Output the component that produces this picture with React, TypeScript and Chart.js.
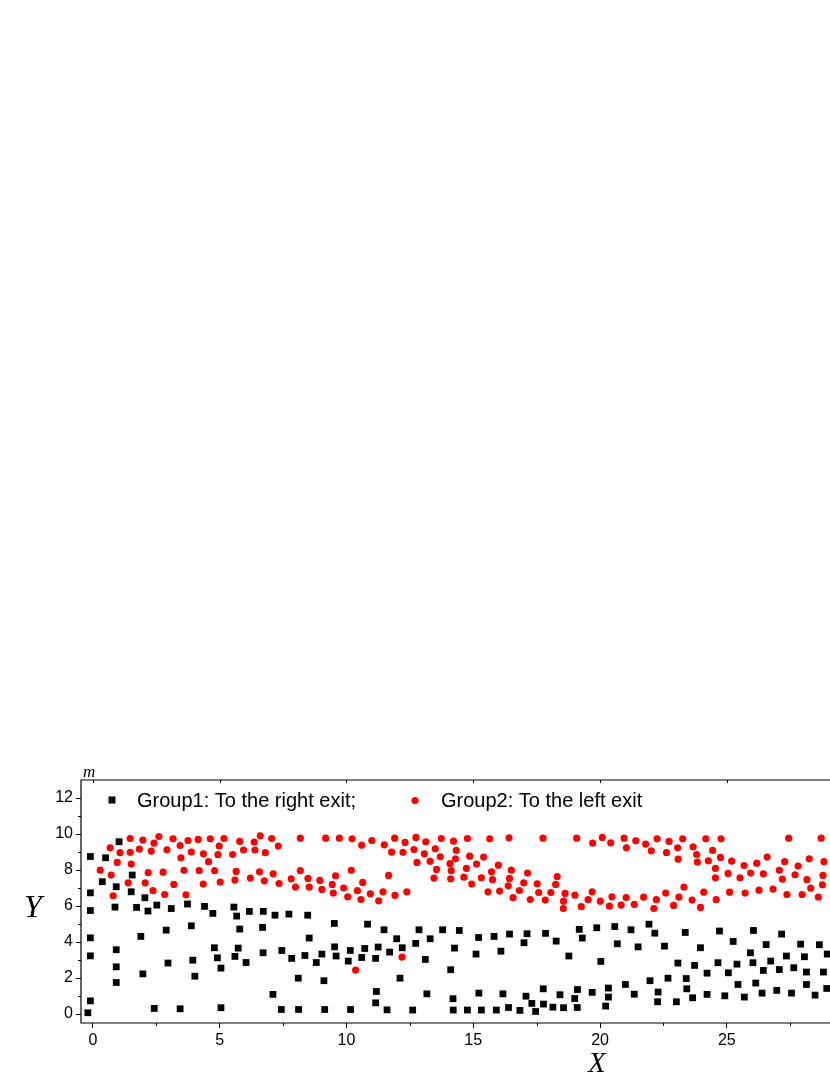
import { useEffect, useRef } from 'react';
import { Chart, registerables } from 'chart.js';

Chart.register(...registerables);

const xTickValues = [0, 5, 10, 15, 20, 25];
const yTickValues = [0, 2, 4, 6, 8, 10, 12];
const xMinorValues = [2.5, 7.5, 12.5, 17.5, 22.5, 27.5];
const yMinorValues = [1, 3, 5, 7, 9, 11];

const seriesLabels = ['Group1: To the right exit;', 'Group2: To the left exit'];
const axisTitleX = 'X';
const axisTitleY = 'Y';
const unitLabel = 'm';

const group1X = [
  -0.10, 0.50, 1.03, 0.37, 0.92, 1.55, -0.10, 1.51, 2.05, -0.10, 0.87, 1.72, 2.17, 2.52, 3.09, 3.73, 4.40,
  -0.10, 1.89, 2.89, 3.88, -0.10, 0.92, 0.92, 2.96, 3.94, 0.92, 1.97, 4.02, -0.10, -0.20, 2.42, 3.44,
  4.73, 5.56, 5.67, 6.17, 6.72, 7.18, 7.73, 8.47, 5.79, 6.69, 8.53, 4.79, 5.73, 4.91, 5.60, 6.71, 7.45,
  6.04, 5.05, 7.84, 8.36, 9.03, 8.81, 8.10, 9.11, 7.10, 5.05, 7.43, 8.11, 9.14,
  9.52, 10.83, 11.48, 12.86, 13.79, 11.98, 13.30, 12.73, 9.53, 10.15, 10.72, 11.25, 12.20, 14.26, 9.59,
  10.07, 10.60, 11.15, 11.70, 13.11, 14.11, 12.11, 11.18, 11.15, 13.17, 14.20, 10.16, 11.60, 12.61, 14.21,
  14.45, 15.21, 15.82, 16.43, 17.12, 17.85, 17.00, 18.27, 19.18, 19.30, 15.11, 16.09, 18.77, 15.22, 16.17,
  17.08, 17.76, 18.42, 19.11, 19.00, 17.31, 17.77, 14.77, 15.32, 15.91, 16.39, 16.84, 17.46, 18.14, 18.56, 19.10,
  19.87, 20.58, 21.22, 21.93, 22.16, 23.36, 20.68, 21.50, 22.54, 23.96, 20.03, 23.07, 23.73, 24.22, 21.00,
  21.97, 22.68, 23.40, 19.69, 20.33, 20.33, 21.35, 22.29, 23.42, 24.22, 22.27, 23.01, 23.65, 20.22,
  24.71, 26.05, 27.16, 25.25, 26.55, 27.91, 28.65, 25.93, 27.35, 28.06, 28.96, 24.65, 25.40, 26.03, 26.73,
  25.06, 26.44, 27.07, 27.64, 28.14, 28.81, 25.44, 26.14, 28.14, 28.94, 24.92, 25.69, 26.39, 26.97, 27.55, 28.48,
];
const group1Y = [
  8.75, 8.68, 9.57, 7.35, 7.07, 7.72, 6.73, 6.79, 6.46, 5.75, 5.94, 5.92, 5.72, 6.05, 5.86, 6.11, 5.98,
  4.23, 4.31, 4.66, 4.90, 3.23, 3.57, 2.62, 2.83, 2.99, 1.75, 2.23, 2.10, 0.73, 0.07, 0.31, 0.29,
  5.59, 5.94, 5.44, 5.70, 5.70, 5.49, 5.55, 5.49, 4.72, 4.81, 4.22, 3.68, 3.66, 3.12, 3.20, 3.40, 3.53,
  2.86, 2.55, 3.09, 3.25, 3.33, 2.86, 1.99, 1.85, 1.09, 0.35, 0.25, 0.25, 0.25,
  5.03, 4.99, 4.68, 4.68, 4.68, 4.18, 4.18, 3.92, 3.73, 3.53, 3.64, 3.72, 3.68, 3.66, 3.22,
  2.94, 3.14, 3.09, 3.44, 3.03, 2.46, 1.99, 1.25, 0.62, 1.12, 0.85, 0.25, 0.23, 0.22, 0.22,
  4.64, 4.25, 4.31, 4.44, 4.46, 4.48, 3.96, 4.05, 4.70, 4.22, 3.33, 3.49, 3.22, 1.16, 1.12,
  0.99, 1.40, 1.07, 1.36, 0.86, 0.59, 0.55, 0.22, 0.22, 0.22, 0.36, 0.20, 0.14, 0.38, 0.35, 0.36,
  4.79, 4.86, 4.68, 4.99, 4.49, 4.53, 3.90, 3.73, 3.77, 3.68, 2.92, 2.83, 2.70, 2.27, 1.64,
  1.85, 1.99, 1.97, 1.20, 1.44, 0.94, 1.10, 1.22, 1.40, 1.09, 0.68, 0.68, 0.90, 0.44,
  4.61, 4.64, 4.44, 4.03, 3.86, 3.88, 3.85, 3.40, 3.22, 3.18, 3.33, 2.85, 2.77, 2.85, 2.94,
  2.29, 2.42, 2.47, 2.57, 2.33, 2.33, 1.64, 1.72, 1.64, 1.42, 1.01, 0.94, 1.16, 1.31, 1.16, 1.05,
];

const group2X = [
  1.47, 1.97, 2.60, 3.16, 3.75, 4.15, 2.41, 0.68, 1.07, 1.47, 1.83, 2.30, 2.92, 3.44, 3.88, 4.36, 3.47,
  0.96, 1.51, 0.29, 0.72, 2.18, 2.77, 3.59, 4.19, 1.39, 2.06, 3.19, 4.35, 0.80, 2.37, 2.83, 3.67,
  4.63, 5.17, 6.60, 7.05, 8.18, 9.18, 4.98, 5.79, 6.36, 7.31, 4.93, 5.51, 5.94, 6.39, 6.80, 4.56,
  4.80, 5.65, 6.57, 7.11, 8.18, 5.02, 5.60, 6.21, 6.76, 7.34, 7.82, 8.48, 8.95, 7.99, 8.53, 9.03,
  9.72, 10.22, 10.60, 11.00, 11.49, 11.90, 12.31, 12.74, 13.13, 13.74, 14.22, 11.78, 12.23, 12.66, 13.07,
  13.50, 14.33, 13.70, 14.30, 12.78, 13.30, 14.08, 13.55, 14.13, 13.45, 14.11, 9.57, 10.19, 11.66, 9.44,
  10.64, 9.48, 9.89, 10.43, 10.05, 10.57, 10.94, 11.44, 11.27, 11.91, 12.38, 12.19, 10.36,
  14.77, 15.65, 16.41, 17.75, 19.08, 14.86, 15.41, 15.13, 15.99, 14.73, 15.72, 16.50, 17.14, 18.31,
  14.63, 15.32, 15.76, 16.43, 16.99, 17.52, 18.25, 14.94, 15.58, 16.04, 16.38, 16.82, 17.58, 18.06,
  18.62, 19.01, 16.57, 17.25, 17.84, 18.56, 18.55, 19.26,
  19.71, 20.09, 20.42, 20.95, 21.04, 21.41, 21.80, 22.02, 22.25, 22.72, 22.62, 23.06, 23.26, 23.67,
  23.81, 23.08, 23.84, 24.17, 19.69, 19.53, 20.01, 20.47, 20.37, 20.83, 21.03, 21.35, 21.72, 22.22,
  22.12, 22.59, 22.90, 23.11, 23.31, 23.63, 23.96, 24.09,
  24.77, 27.44, 28.72, 24.44, 24.27, 24.75, 25.19, 25.68, 26.18, 26.59, 27.28, 27.81, 28.25, 28.83,
  24.55, 24.55, 25.05, 25.52, 25.94, 26.44, 27.07, 27.19, 27.69, 28.16, 28.79, 28.77, 24.58, 25.11,
  25.72, 26.27, 26.82, 27.37, 27.97, 28.31, 28.61,
];
const group2Y = [
  9.75, 9.66, 9.86, 9.73, 9.64, 9.70, 9.49, 9.23, 8.96, 8.98, 9.16, 9.05, 9.12, 9.36, 9.00, 8.90, 8.68,
  8.42, 8.33, 7.99, 7.72, 7.85, 7.88, 7.98, 7.96, 7.29, 7.29, 7.20, 7.22, 6.57, 6.85, 6.64, 6.62,
  9.73, 9.75, 9.90, 9.75, 9.77, 9.77, 9.33, 9.59, 9.55, 9.33, 8.85, 8.86, 9.11, 9.11, 8.96, 8.46,
  7.96, 7.92, 7.90, 7.79, 7.96, 7.33, 7.44, 7.55, 7.40, 7.25, 7.51, 7.53, 7.42, 7.05, 7.05, 6.92,
  9.77, 9.73, 9.38, 9.64, 9.40, 9.77, 9.53, 9.81, 9.57, 9.75, 9.60, 8.99, 8.98, 9.14, 8.90,
  9.18, 9.09, 8.73, 8.62, 8.42, 8.48, 8.35, 8.03, 7.96, 7.55, 7.51, 7.68, 7.98, 7.70, 7.20,
  7.31, 6.72, 7.00, 6.85, 6.51, 6.36, 6.68, 6.79, 6.29, 6.59, 6.79, 3.16, 2.44,
  9.75, 9.73, 9.79, 9.77, 9.77, 8.77, 8.72, 8.33, 8.27, 8.09, 7.90, 7.99, 7.83, 7.64,
  7.60, 7.57, 7.46, 7.53, 7.29, 7.23, 7.20, 7.22, 6.79, 6.83, 7.12, 6.86, 6.75, 6.75,
  6.70, 6.60, 6.46, 6.36, 6.33, 6.27, 5.86, 5.96,
  9.49, 9.81, 9.51, 9.77, 9.23, 9.62, 9.44, 9.07, 9.73, 9.59, 8.96, 9.23, 9.73, 9.29,
  8.86, 8.60, 8.44, 9.73, 6.79, 6.35, 6.27, 6.51, 5.99, 6.05, 6.47, 6.09, 6.49, 6.35,
  5.86, 6.72, 6.03, 6.49, 7.05, 6.33, 5.92, 6.77,
  9.73, 9.77, 9.77, 9.09, 8.51, 8.70, 8.49, 8.25, 8.38, 8.72, 8.46, 8.22, 8.62, 8.46,
  8.09, 7.57, 7.81, 7.57, 7.83, 7.79, 7.98, 7.49, 7.73, 7.46, 7.70, 7.18, 6.35, 6.77,
  6.72, 6.88, 6.94, 6.64, 6.64, 6.99, 6.49,
];

const SANS = '"Liberation Sans", Arial, sans-serif';
const SERIF = '"Liberation Serif", "Times New Roman", serif';

const framePlugin = {
  id: 'frame',
  afterDraw(chart: any) {
    const { ctx, chartArea } = chart;
    const { left, right, top, bottom } = chartArea;
    const xs = chart.scales.x;
    const ys = chart.scales.y;
    ctx.save();
    ctx.strokeStyle = '#000';
    ctx.lineWidth = 1.2;
    ctx.beginPath();
    ctx.moveTo(left, top);
    ctx.lineTo(right, top);
    ctx.lineTo(right, bottom);
    ctx.lineTo(left, bottom);
    ctx.closePath();
    ctx.stroke();

    ctx.lineWidth = 1;
    ctx.beginPath();
    yMinorValues.forEach((v) => {
      const py = Math.round(ys.getPixelForValue(v)) + 0.5;
      ctx.moveTo(left, py);
      ctx.lineTo(left - 3, py);
    });
    xMinorValues.forEach((v) => {
      const px = Math.round(xs.getPixelForValue(v)) + 0.5;
      ctx.moveTo(px, bottom);
      ctx.lineTo(px, bottom + 3);
    });
    xTickValues.forEach((v) => {
      const px = Math.round(xs.getPixelForValue(v)) + 0.5;
      ctx.moveTo(px, top);
      ctx.lineTo(px, top + 3);
    });
    ctx.stroke();

    // legend
    const ds0 = chart.data.datasets[0];
    const ds1 = chart.data.datasets[1];
    ctx.fillStyle = ds0.backgroundColor;
    ctx.fillRect(112 - 3.5, 800 - 3.5, 7, 7);
    ctx.fillStyle = ds1.backgroundColor;
    ctx.beginPath();
    ctx.arc(415, 800.5, 3.6, 0, Math.PI * 2);
    ctx.fill();
    ctx.fillStyle = '#000';
    ctx.font = `20px ${SANS}`;
    ctx.textBaseline = 'alphabetic';
    ctx.textAlign = 'left';
    ctx.fillText(ds0.label, 137, 807);
    ctx.fillText(ds1.label, 441, 807);

    // axis titles
    ctx.font = `italic 17px ${SERIF}`;
    ctx.fillText(unitLabel, 83, 777);
    ctx.font = `italic 32px ${SERIF}`;
    ctx.fillText(axisTitleY, 24, 917);
    ctx.font = `italic 29px ${SERIF}`;
    ctx.fillText(axisTitleX, 588, 1072);
    ctx.restore();
  },
};

export default function App() {
  const canvasRef = useRef<HTMLCanvasElement | null>(null);

  useEffect(() => {
    const canvas = canvasRef.current;
    if (!canvas) return;
    const tickFont = { family: SANS, size: 16 };
    const chart = new Chart(canvas, {
      type: 'scatter',
      data: {
        datasets: [
          {
            label: seriesLabels[0],
            data: group1X.map((x, i) => ({ x, y: group1Y[i] })),
            pointStyle: 'rect',
            pointRadius: 4.8,
            pointHoverRadius: 4.8,
            backgroundColor: '#000000',
            borderColor: '#000000',
            borderWidth: 0,
          },
          {
            label: seriesLabels[1],
            data: group2X.map((x, i) => ({ x, y: group2Y[i] })),
            pointStyle: 'circle',
            pointRadius: 3.6,
            pointHoverRadius: 3.6,
            backgroundColor: '#ff0000',
            borderColor: '#ff0000',
            borderWidth: 0,
          },
        ],
      },
      options: {
        responsive: false,
        animation: false,
        devicePixelRatio: 1,
        events: [],
        layout: { padding: { top: 780, right: 15, left: 0, bottom: 0 } },
        plugins: { legend: { display: false }, tooltip: { enabled: false }, title: { display: false } },
        scales: {
          x: {
            type: 'linear',
            min: -0.47,
            max: 29.66,
            afterBuildTicks: (s: any) => {
              s.ticks = xTickValues.map((v) => ({ value: v }));
            },
            afterFit: (s: any) => {
              s.height = 52;
            },
            grid: { display: true, drawOnChartArea: false, drawTicks: true, tickLength: 5, color: '#000', lineWidth: 1 },
            border: { display: false },
            ticks: { font: tickFont, color: '#000', padding: 3, maxRotation: 0, autoSkip: false },
          },
          y: {
            type: 'linear',
            min: -0.5,
            max: 13,
            afterBuildTicks: (s: any) => {
              s.ticks = yTickValues.map((v) => ({ value: v }));
            },
            afterFit: (s: any) => {
              s.width = 81;
            },
            grid: { display: true, drawOnChartArea: false, drawTicks: true, tickLength: 5, color: '#000', lineWidth: 1 },
            border: { display: false },
            ticks: { font: tickFont, color: '#000', padding: 3, autoSkip: false },
          },
        },
      },
      plugins: [framePlugin],
    } as any);
    return () => chart.destroy();
  }, []);

  return (
    <div style={{ position: 'absolute', left: 0, top: 0, width: 830, height: 1075, overflow: 'hidden', background: '#fff' }}>
      <canvas ref={canvasRef} width={860} height={1075} style={{ display: 'block', width: 860, height: 1075 }} />
    </div>
  );
}
